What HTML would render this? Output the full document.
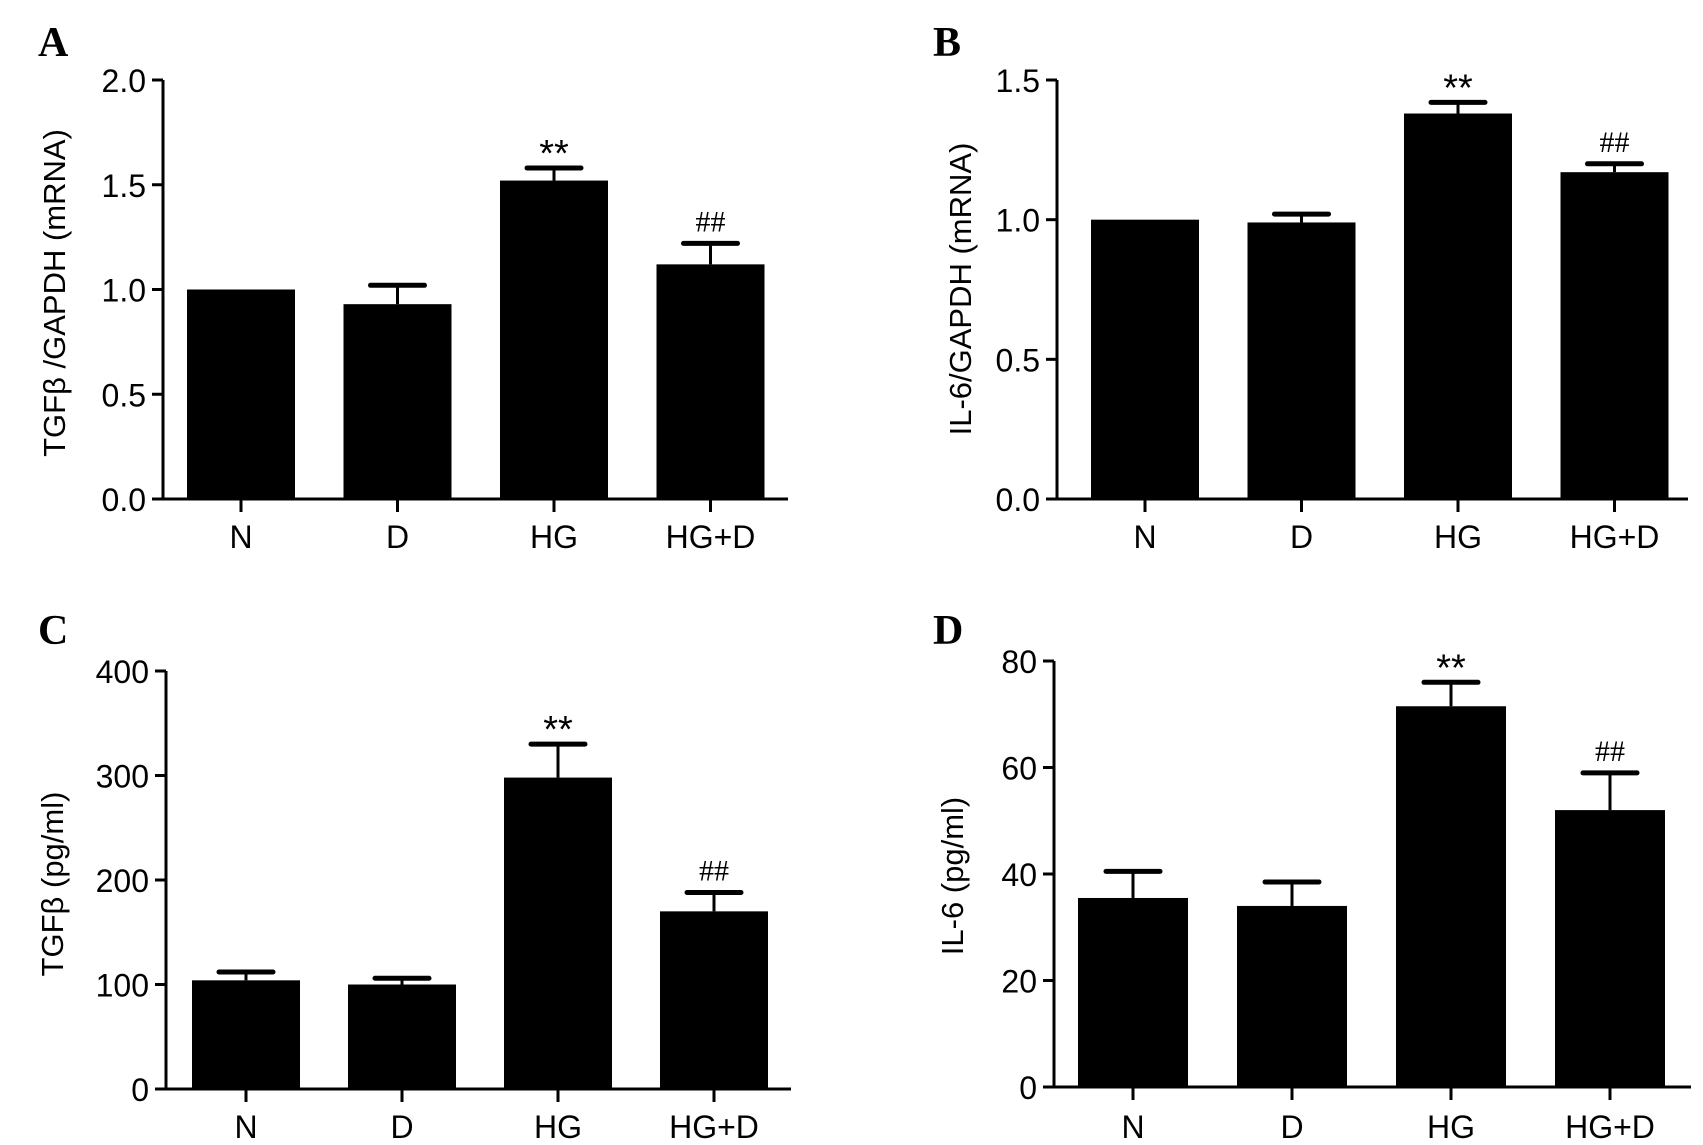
<!DOCTYPE html>
<html><head><meta charset="utf-8">
<style>
html,body{margin:0;padding:0;background:#fff;}
svg{display:block;}
text{font-family:"Liberation Sans",Arial,sans-serif;fill:#000;}
</style></head>
<body>
<svg id="fig" width="1703" height="1145" viewBox="0 0 1703 1145" xmlns="http://www.w3.org/2000/svg"></svg>
<script>
const categories = ["N","D","HG","HG+D"];
const valuesA = [1.0, 0.93, 1.52, 1.12];
const errorsA = [0.0, 0.09, 0.06, 0.10];
const ticksA = [0, 0.5, 1.0, 1.5, 2.0];
const tickLabelsA = ["0.0","0.5","1.0","1.5","2.0"];
const valuesB = [1.0, 0.99, 1.38, 1.17];
const errorsB = [0.0, 0.03, 0.04, 0.03];
const ticksB = [0, 0.5, 1.0, 1.5];
const tickLabelsB = ["0.0","0.5","1.0","1.5"];
const valuesC = [104, 100, 298, 170];
const errorsC = [8, 6, 32, 18];
const ticksC = [0, 100, 200, 300, 400];
const tickLabelsC = ["0","100","200","300","400"];
const valuesD = [35.5, 34, 71.5, 52];
const errorsD = [5, 4.5, 4.5, 7];
const ticksD = [0, 20, 40, 60, 80];
const tickLabelsD = ["0","20","40","60","80"];
const marksA = ["","","**","##"];

const NS = "http://www.w3.org/2000/svg";
const svg = document.getElementById("fig");
function mk(tag, attrs, parent){
  const e = document.createElementNS(NS, tag);
  for (const k in attrs) e.setAttribute(k, attrs[k]);
  parent.appendChild(e);
  return e;
}

const panels = [
  {id:"a", letter:"A", lx:38, ly:56, ax:163, top:80, bottom:499, right:788, firstBar:187, step:156.5, bw:108,
   vals:valuesA, errs:errorsA, ticks:ticksA, labels:tickLabelsA, ymax:2.0, title:"TGFβ /GAPDH (mRNA)", tx:57, ty:293, catY:548},
  {id:"b", letter:"B", lx:933, ly:56, ax:1057, top:80, bottom:499, right:1688, firstBar:1091, step:156.5, bw:108,
   vals:valuesB, errs:errorsB, ticks:ticksB, labels:tickLabelsB, ymax:1.5, title:"IL-6/GAPDH (mRNA)", tx:963, ty:289, catY:548},
  {id:"c", letter:"C", lx:38, ly:644, ax:166, top:671, bottom:1089, right:791, firstBar:192, step:156, bw:108,
   vals:valuesC, errs:errorsC, ticks:ticksC, labels:tickLabelsC, ymax:400, title:"TGFβ (pg/ml)", tx:55, ty:884, catY:1138},
  {id:"d", letter:"D", lx:933, ly:644, ax:1054, top:661, bottom:1087, right:1691, firstBar:1078, step:159, bw:110,
   vals:valuesD, errs:errorsD, ticks:ticksD, labels:tickLabelsD, ymax:80, title:"IL-6 (pg/ml)", tx:955, ty:876, catY:1138}
];

panels.forEach(p => {
  const g = mk("g", {}, svg);
  
  
  const yS = v => p.bottom - v / p.ymax * (p.bottom - p.top);

  const let_ = mk("text", {x:p.lx, y:p.ly, "font-size":42, "font-weight":"bold", style:"font-family:'Liberation Serif',serif"}, g);
  let_.textContent = p.letter;
  
  

  const t = mk("text", {x:0, y:0, "font-size":31, "text-anchor":"middle", "dominant-baseline":"middle",
    transform:`translate(${p.tx},${p.ty}) rotate(-90)`}, g);
  t.textContent = p.title;
  
  

  p.vals.forEach((v, i) => {
    const x = p.firstBar + i * p.step;
    const cx = x + p.bw / 2;
    const y = yS(v);
    const r = mk("rect", {x:x, y:y, width:p.bw, height:p.bottom - y, fill:"#000"}, g);
    
    
    if (p.errs[i] > 0) {
      const ye = yS(v + p.errs[i]);
      const eg = mk("g", {}, g);
      
      
      mk("line", {x1:cx, x2:cx, y1:y, y2:ye, stroke:"#000", "stroke-width":3}, eg);
      mk("line", {x1:cx - 27, x2:cx + 27, y1:ye, y2:ye, stroke:"#000", "stroke-width":5, "stroke-linecap":"round"}, eg);
      const m = marksA[i];
      if (m) {
        const mt = mk("text", {x:cx, y: m === "**" ? ye - 2 : ye - 12, "text-anchor":"middle",
          "font-size": m === "**" ? 38 : 30,
          style: m === "##" ? "font-family:'Liberation Serif',serif" : ""}, g);
        mt.textContent = m;
        
        
      }
    }
    mk("line", {x1:cx, x2:cx, y1:p.bottom, y2:p.bottom + 13, stroke:"#000", "stroke-width":3}, g);
    const cl = mk("text", {x:cx, y:p.catY, "font-size":32, "text-anchor":"middle"}, g);
    cl.textContent = categories[i];
    
    
  });

  const ya = mk("line", {x1:p.ax, x2:p.ax, y1:p.top, y2:p.bottom, stroke:"#000", "stroke-width":3}, g);
  
  
  const xa = mk("line", {x1:p.ax - 11, x2:p.right, y1:p.bottom, y2:p.bottom, stroke:"#000", "stroke-width":3}, g);
  
  
  p.ticks.forEach((tv, i) => {
    const y = yS(tv);
    mk("line", {x1:p.ax - 11, x2:p.ax, y1:y, y2:y, stroke:"#000", "stroke-width":3}, g);
    const tl = mk("text", {x:p.ax - 17, y:y + 12, "font-size":32, "text-anchor":"end"}, g);
    tl.textContent = p.labels[i];
    
    
  });
});
</script>
</body></html>
